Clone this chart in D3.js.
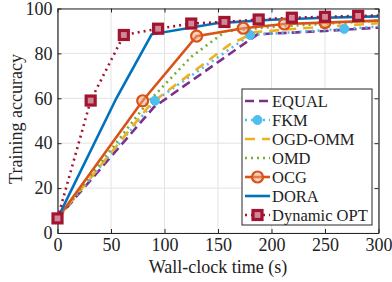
<!DOCTYPE html>
<html><head><meta charset="utf-8">
<script src="https://cdn.jsdelivr.net/npm/d3@7"></script>
<style>body{margin:0;background:#fff}svg{display:block}svg text{font-family:"Liberation Serif","Times New Roman",serif !important;fill:#222}</style>
</head><body><div id="c"></div>
<script>
const xTicks=[0,50,100,150,200,250,300];
const yTicks=[0,20,40,60,80,100];
const equalX=[0,90,187,250,300], equalY=[6.5,56,88.5,90,91.5];
const fkmX=[0,91,180,268,300], fkmY=[6.5,58.9,88.2,90.9,92];
const ogdX=[0,88,161,185,229,300], ogdY=[6.5,58,84,89.5,91.2,93.4];
const omdX=[0,84,125,157,200,250,300], omdY=[6.5,58,78.5,89.8,91.8,93.2,94.6];
const ocgX=[0,79.6,130,173.6,212,250,300], ocgY=[6.5,58.9,87.7,91.2,93.1,93.7,94.6];
const doraX=[0,55,88,150,200,250,300], doraY=[6.5,60,88.5,93.5,95,95.9,96.5];
const optX=[0,31,62,94,125,156,188,219,250,281,300], optY=[6.5,59,88.2,91,93.3,94,95.1,95.9,96.3,96.7,96.9];
const names=["EQUAL","FKM","OGD-OMM","OMD","OCG","DORA","Dynamic OPT"];
const colors=["#7E2F8E","#4DBEEE","#EDB120","#77AC30","#D95319","#0072BD","#A2142F"];
const dashes=["9,5","2,4","10,7","2,4",null,null,"2,4"];
const markers=["none","circle","none","none","ocircle","none","square"];
const mIdx=[[],[1,2,3],[],[],[1,2,3,4,5],[],[1,2,3,4,5,6,7,8,9]];
const series=[[equalX,equalY],[fkmX,fkmY],[ogdX,ogdY],[omdX,omdY],[ocgX,ocgY],[doraX,doraY],[optX,optY]];

const W=392,H=282,L=57.5,R=378.5,T=8.5,B=233;
const svg=d3.select("#c").append("svg").attr("width",W).attr("height",H);
const x=d3.scaleLinear().domain([0,300]).range([L,R]);
const y=d3.scaleLinear().domain([0,100]).range([B,T]);
// grid
svg.append("g").selectAll("line").data(xTicks).join("line").attr("x1",d=>x(d)).attr("x2",d=>x(d)).attr("y1",T).attr("y2",B).attr("stroke","#e3e3e3").attr("stroke-width",1);
svg.append("g").selectAll("line").data(yTicks).join("line").attr("y1",d=>y(d)).attr("y2",d=>y(d)).attr("x1",L).attr("x2",R).attr("stroke","#e3e3e3").attr("stroke-width",1);
// axes
svg.append("g").attr("transform",`translate(0,${B})`).call(d3.axisBottom(x).tickValues(xTicks).tickSizeInner(-4).tickSizeOuter(0).tickPadding(5));
svg.append("g").attr("transform",`translate(${L},0)`).call(d3.axisLeft(y).tickValues(yTicks).tickSizeInner(-4).tickSizeOuter(0).tickPadding(5));
svg.append("g").attr("transform",`translate(0,${T})`).call(d3.axisTop(x).tickValues(xTicks).tickSizeInner(-4).tickSizeOuter(0).tickFormat(""));
svg.append("g").attr("transform",`translate(${R},0)`).call(d3.axisRight(y).tickValues(yTicks).tickSizeInner(-4).tickSizeOuter(0).tickFormat(""));
svg.selectAll(".domain").attr("stroke","#262626").attr("stroke-width",1.2);
svg.selectAll(".tick line").attr("stroke","#262626");
svg.selectAll(".tick text").attr("font-size",18).attr("fill","#222");
// lines
const line=d3.line().x(d=>x(d[0])).y(d=>y(d[1]));
series.forEach((s,i)=>{
  const pts=s[0].map((v,j)=>[v,s[1][j]]);
  svg.append("path").datum(pts).attr("d",line).attr("fill","none").attr("stroke",colors[i]).attr("stroke-width",2.6).attr("stroke-dasharray",dashes[i]);
});
function drawMarker(g,type,cx,cy,c){
  if(type==="circle") g.append("circle").attr("cx",cx).attr("cy",cy).attr("r",4.5).attr("fill",c).attr("stroke",c);
  else if(type==="ocircle") g.append("circle").attr("cx",cx).attr("cy",cy).attr("r",5.5).attr("fill","#f0a37c").attr("fill-opacity",0.5).attr("stroke",c).attr("stroke-width",2.2);
  else if(type==="square") g.append("rect").attr("x",cx-4.5).attr("y",cy-4.5).attr("width",9).attr("height",9).attr("fill","#d0899a").attr("stroke",c).attr("stroke-width",3.2);
}
series.forEach((s,i)=>{
  const g=svg.append("g");
  mIdx[i].forEach(j=>drawMarker(g,markers[i],x(s[0][j]),y(s[1][j]),colors[i]));
});
drawMarker(svg.append("g"),"square",x(optX[0]),y(optY[0]),colors[6]);
// legend
const lg=svg.append("g");
lg.append("rect").attr("x",242).attr("y",89).attr("width",130).attr("height",136).attr("fill","#fff").attr("stroke","#262626").attr("stroke-width",1);
names.forEach((n,i)=>{
  const yy=101+i*19;
  lg.append("line").attr("x1",245).attr("x2",270).attr("y1",yy).attr("y2",yy).attr("stroke",colors[i]).attr("stroke-width",2.6).attr("stroke-dasharray",dashes[i]);
  drawMarker(lg,markers[i],257.5,yy,colors[i]);
  lg.append("text").attr("x",272).attr("y",yy+5.5).attr("font-size",16.5).text(n);
});
// titles
svg.append("text").attr("x",(L+R)/2).attr("y",273).attr("text-anchor","middle").attr("font-size",18).text("Wall-clock time (s)");
svg.append("text").attr("transform",`translate(22,119) rotate(-90)`).attr("text-anchor","middle").attr("font-size",18).text("Training accuracy");
</script></body></html>
